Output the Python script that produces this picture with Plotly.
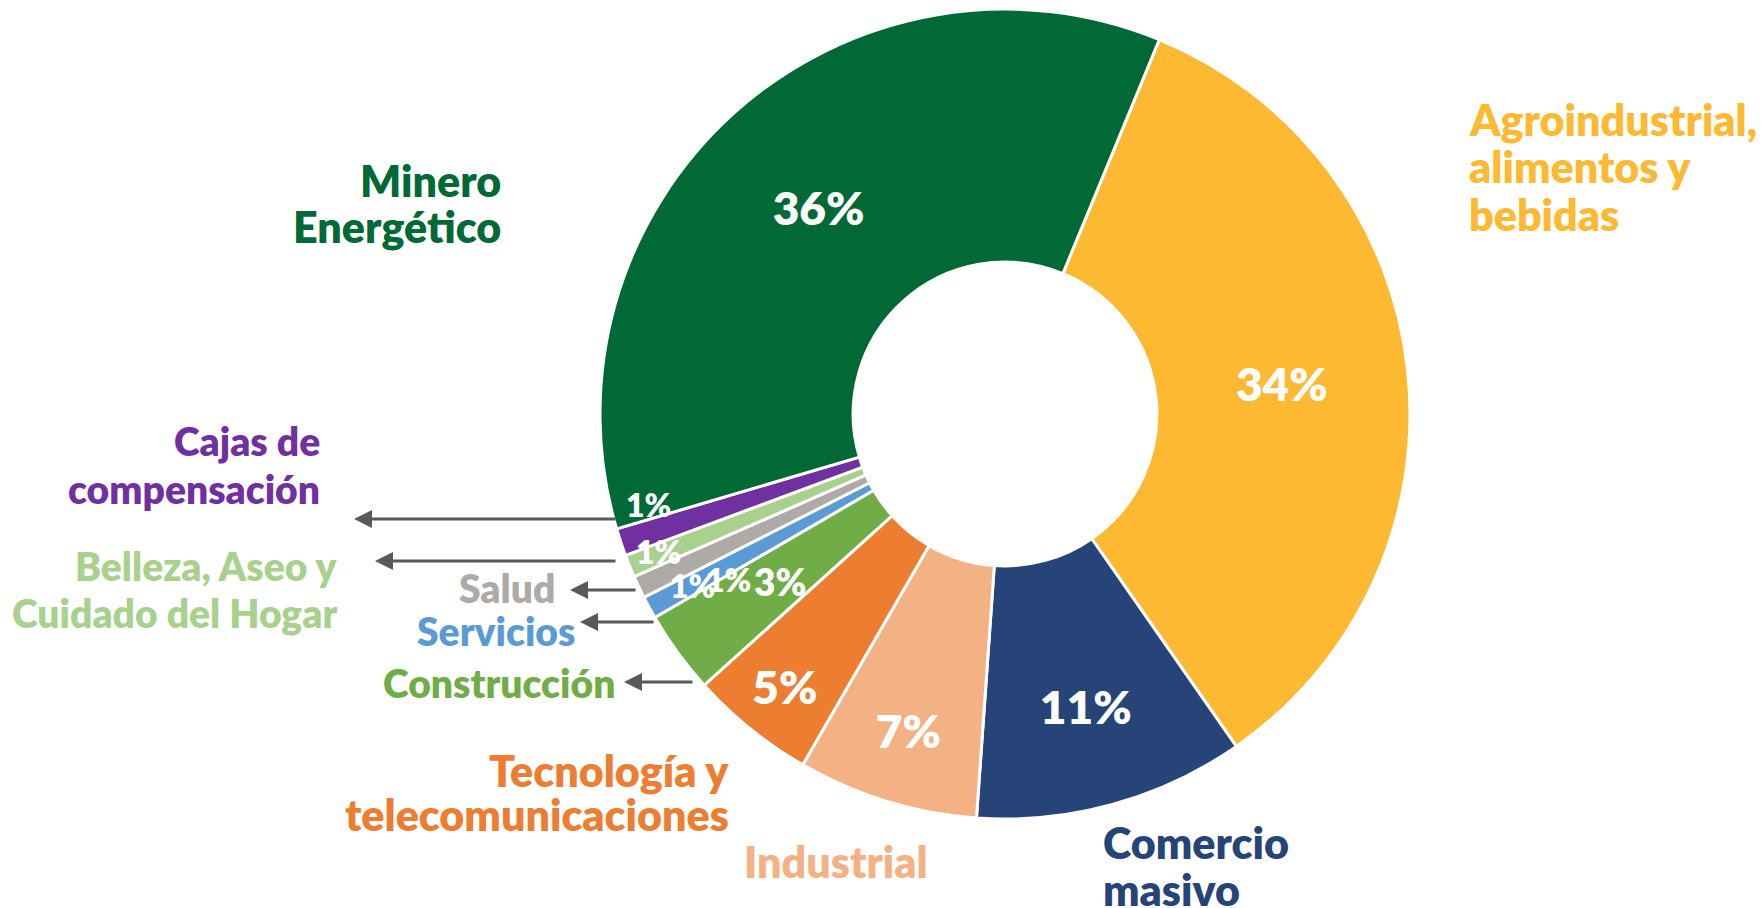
import plotly.graph_objects as go

# data (clockwise from the Agro slice)
sectores = ['Agroindustrial, alimentos y bebidas', 'Comercio masivo', 'Industrial',
            'Tecnología y telecomunicaciones', 'Construcción', 'Servicios', 'Salud',
            'Belleza, Aseo y Cuidado del Hogar', 'Cajas de compensación', 'Minero Energético']
participacion = [34.1, 10.8, 7.2, 5.0, 3.3, 0.9, 0.9, 0.9, 1.1, 35.8]
etiquetas = ['34%', '11%', '7%', '5%', '', '', '', '', '', '36%']
etiquetas_pequenas = ['1%', '1%', '1%', '1%', '3%']
colores = ['#FEB932', '#264478', '#F4B183', '#ED7D31', '#70AD47', '#5B9BD5', '#ADAAA8',
           '#A9D18E', '#7030A0', '#006935']

W, H = 1764, 908
FONT = 'Lato'
OFF = 8  # page margin of the html body


def px(x, y):
    # screen pixel position -> paper coords
    return (x - OFF) / W, 1 - (y - OFF) / H


cx, cy, r = 1005, 414, 405
x0d, y1d = px(cx - r, cy - r)
x1d, y0d = px(cx + r, cy + r)

fig = go.Figure()
fig.add_trace(go.Pie(
    labels=sectores,
    values=participacion,
    text=etiquetas,
    textinfo='text',
    textposition='inside',
    insidetextorientation='horizontal',
    textfont=dict(family=FONT, color='white', size=46, weight=800),
    marker=dict(colors=colores, line=dict(color='white', width=3)),
    hole=0.375,
    sort=False,
    direction='clockwise',
    rotation=22.4,
    showlegend=False,
    domain=dict(x=[x0d, x1d], y=[y0d, y1d]),
))

annots = []

# category label lines: (text, x, y, anchor, colour index, size)
lineas = [
    ('Minero', 503, 180, 'right', 9, 43),
    ('Energético', 503, 227, 'right', 9, 43),
    ('Agroindustrial,', 1467, 119, 'left', 0, 43),
    ('alimentos y', 1467, 167, 'left', 0, 43),
    ('bebidas', 1467, 214, 'left', 0, 43),
    ('Cajas de', 322, 441, 'right', 8, 39),
    ('compensación', 322, 489, 'right', 8, 39),
    ('Belleza, Aseo y', 339, 566, 'right', 7, 39),
    ('Cuidado del Hogar', 339, 613, 'right', 7, 39),
    ('Salud', 557, 588, 'right', 6, 39),
    ('Servicios', 577, 631, 'right', 5, 39),
    ('Construcción', 617, 683, 'right', 4, 39),
    ('Tecnología y', 731, 770, 'right', 3, 43),
    ('telecomunicaciones', 731, 814, 'right', 3, 43),
    ('Industrial', 836, 861, 'center', 2, 43),
    ('Comercio', 1101, 842, 'left', 1, 43),
    ('masivo', 1101, 889, 'left', 1, 43),
]
for txt, x, y, anc, ci, s in lineas:
    xx, yy = px(x, y)
    annots.append(dict(text=txt, x=xx, y=yy, xref='paper', yref='paper', xanchor=anc,
                       yanchor='middle', showarrow=False,
                       font=dict(family=FONT, size=s, color=colores[ci], weight=800)))

# small percentage labels
pos_pequenas = [(648, 504), (658, 551), (692, 585), (728, 579), (780, 581)]
tam_pequenas = [32, 32, 32, 32, 37]
for txt, (x, y), s in zip(etiquetas_pequenas, pos_pequenas, tam_pequenas):
    xx, yy = px(x, y)
    annots.append(dict(text=txt, x=xx, y=yy, xref='paper', yref='paper', showarrow=False,
                       font=dict(family=FONT, size=s, color='white', weight=800)))

# arrows: (tip x, tail x, y)
flechas = [(354, 617, 519), (375, 617, 561), (570, 637, 590), (580, 655, 622), (624, 694, 682)]
for x0, x1, y in flechas:
    xx, yy = px(x0, y)
    annots.append(dict(text='', x=xx, y=yy, xref='paper', yref='paper', showarrow=True,
                       ax=x1 - x0, ay=0, axref='pixel', ayref='pixel',
                       arrowhead=2, arrowsize=1.2, arrowwidth=3, arrowcolor='#595959'))

fig.update_layout(
    width=W, height=H,
    margin=dict(l=0, r=0, t=0, b=0),
    paper_bgcolor='white',
    plot_bgcolor='white',
    annotations=annots,
)

fig.write_html('out.html')
